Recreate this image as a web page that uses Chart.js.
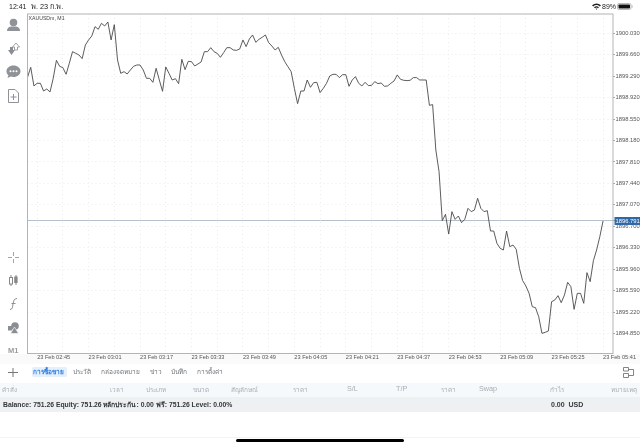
<!DOCTYPE html>
<html lang="th"><head><meta charset="utf-8">
<script src="https://cdn.jsdelivr.net/npm/chart.js@4"></script>
<style>
html,body{margin:0;padding:0;background:#fff;width:640px;height:447px;overflow:hidden;font-family:"Liberation Sans","Noto Sans",sans-serif}
#c{position:absolute;left:0;top:0;width:640px;height:447px}
.t{position:absolute;white-space:nowrap;line-height:1;font-family:"Liberation Sans","Noto Sans",sans-serif}
.b{position:absolute}
.h{color:#a9adb2;font-size:6.4px;top:386.5px}
.h.l{font-size:7.2px;top:385.3px}
.tab{color:#6f7378;font-size:6.5px;top:369px}
svg{position:absolute;overflow:visible}
</style></head><body>
<div class="b" style="left:0;top:354px;width:640px;height:10px;background:#fafafa"></div>
<div class="b" style="left:0;top:383px;width:640px;height:14px;background:#f6f9fc"></div>
<div class="b" style="left:0;top:397px;width:640px;height:15px;background:#eef0f2"></div>
<div class="b" style="left:0;top:437px;width:640px;height:1px;background:#f4f4f4"></div>
<canvas id="c" width="640" height="447"></canvas>

<div class="t" style="left:9px;top:3px;font-size:7px;color:#222">12:41</div>
<div class="t" style="left:31px;top:2.5px;font-size:7.3px;color:#222">พ. 23 ก.พ.</div>
<div class="t" style="left:602px;top:3px;font-size:7px;color:#222">89%</div>
<svg style="left:592px;top:3px" width="9" height="7" viewBox="0 0 9 7"><path d="M0 2.2 Q4.5-1.4 9 2.2L7.8 3.4Q4.5 .8 1.2 3.4ZM2 4.2Q4.5 2.2 7 4.2L6 5.2Q4.5 4 3 5.2ZM3.6 5.8Q4.5 5.2 5.4 5.8L4.5 6.8Z" fill="#222"/></svg>
<svg style="left:617px;top:3px" width="16" height="7" viewBox="0 0 16 7"><rect x=".5" y=".5" width="13.5" height="6" rx="1.5" fill="#fff" stroke="#bbb"/><rect x="1.5" y="1.5" width="11.5" height="4" rx=".7" fill="#111"/><rect x="14.6" y="2.3" width="1" height="2.4" fill="#bbb"/></svg>

<svg style="left:6px;top:18px" width="15" height="14" viewBox="0 0 15 14"><circle cx="7.5" cy="4.5" r="3.8" fill="#8f9296"/><path d="M1 13Q1 9 5 8.5L10 8.5Q14 9 14 13Z" fill="#8f9296"/></svg>
<svg style="left:7px;top:42px" width="13" height="14" viewBox="0 0 13 14"><path d="M1 8H3V5H6V8H8L4.5 13Z" fill="#8a8d91"/><path d="M5.5 5L9 1L12.5 5H10.5V8H7.5V5Z" fill="#fff" stroke="#8a8d91" stroke-width=".8"/></svg>
<svg style="left:6px;top:65px" width="15" height="14" viewBox="0 0 15 14"><path d="M7.5 .5C11.5.5 14.5 3 14.5 6.2S11.5 12 7.5 12C6.5 12 5.5 11.8 4.8 11.6L1.5 13 2.4 10.2C1.2 9.2.5 7.8.5 6.2.5 3 3.5.5 7.5.5Z" fill="#8f9296"/><circle cx="4.5" cy="6.2" r="1" fill="#fff"/><circle cx="7.5" cy="6.2" r="1" fill="#fff"/><circle cx="10.5" cy="6.2" r="1" fill="#fff"/></svg>
<svg style="left:8px;top:89px" width="11" height="14" viewBox="0 0 11 14"><path d="M.5.5H7L10.5 4V13.5H.5Z" fill="#fff" stroke="#8f9296"/><path d="M2.5 8H8.5M5.5 5V11" stroke="#8f9296"/></svg>
<svg style="left:8px;top:252px" width="11" height="11" viewBox="0 0 11 11"><path d="M0 5.5H4M7 5.5H11M5.5 0V4M5.5 7V11" stroke="#a2a5a9"/></svg>
<svg style="left:9px;top:275px" width="9" height="11" viewBox="0 0 9 11"><path d="M2 0V11M7 0V10" stroke="#888"/><rect x=".5" y="2.5" width="3" height="6.5" fill="#fff" stroke="#888"/><rect x="5.2" y="1.5" width="3.4" height="6.5" fill="#888"/></svg>
<svg style="left:9px;top:298px" width="9" height="12" viewBox="0 0 9 12"><path d="M1 11.5C3.5 11.5 3.5 9 4 6S5 .5 8 .5M2.5 5.5H6.5" fill="none" stroke="#8a8d91"/></svg>
<svg style="left:7.5px;top:321.5px" width="11" height="12" viewBox="0 0 11 12"><circle cx="7" cy="4" r="3.8" fill="#8a8d91"/><rect x="0" y="4" width="4.5" height="4.5" fill="#8a8d91"/><path d="M6.5 5L10.5 11.5H2.5Z" fill="#8a8d91" stroke="#fff" stroke-width=".6"/></svg>
<div class="t" style="left:8px;top:347px;font-size:7.5px;font-weight:bold;color:#9a9da1">M1</div>

<svg style="left:8px;top:367.5px" width="10" height="9" viewBox="0 0 10 9"><path d="M0 4.5H10M5 0V9" stroke="#777"/></svg>
<div class="b" style="left:32px;top:367px;width:35px;height:10px;background:#e4f0fc;border-radius:2px"></div>
<div class="t tab" style="left:33px;color:#2a7be0;font-weight:bold">การซื้อขาย</div>
<div class="t tab" style="left:73px">ประวัติ</div>
<div class="t tab" style="left:100.5px">กล่องจดหมาย</div>
<div class="t tab" style="left:150px">ข่าว</div>
<div class="t tab" style="left:171px">บันทึก</div>
<div class="t tab" style="left:197px">การตั้งค่า</div>
<svg style="left:623px;top:367px" width="11" height="11" viewBox="0 0 11 11"><path d="M.5.5H5.5V4H.5ZM.5 6.5H5.5V10.5H.5ZM5.5 2.5H10.5V8.5H5.5" fill="none" stroke="#777" stroke-width=".9"/></svg>

<div class="t h" style="left:2px">คำสั่ง</div>
<div class="t h" style="left:110px">เวลา</div>
<div class="t h" style="left:146px">ประเภท</div>
<div class="t h" style="left:193px">ขนาด</div>
<div class="t h" style="left:231px">สัญลักษณ์</div>
<div class="t h" style="left:293px">ราคา</div>
<div class="t h l" style="left:347px">S/L</div>
<div class="t h l" style="left:396px">T/P</div>
<div class="t h" style="left:441px">ราคา</div>
<div class="t h l" style="left:479px">Swap</div>
<div class="t h" style="left:550px">กำไร</div>
<div class="t h" style="left:611px">หมายเหตุ</div>
<div class="t" style="left:3px;top:401.5px;font-size:6.8px;font-weight:bold;color:#33373b">Balance: 751.26 Equity: 751.26 หลักประกัน: 0.00 ฟรี: 751.26 Level: 0.00%</div>
<div class="t" style="left:551px;top:401px;font-size:7px;font-weight:bold;color:#33373b;white-space:pre">0.00  USD</div>
<div class="b" style="left:236px;top:439px;width:168px;height:2.6px;background:#000;border-radius:2px"></div>

<script>
const symbolTitle = "XAUUSDm, M1";
const minutesPerTick = 8;
const firstTickMinute = 3;
const timeLabels = ["23 Feb 02:45","23 Feb 03:01","23 Feb 03:17","23 Feb 03:33","23 Feb 03:49","23 Feb 04:05","23 Feb 04:21","23 Feb 04:37","23 Feb 04:53","23 Feb 05:09","23 Feb 05:25","23 Feb 05:41"];
const priceTicks = [1900.03,1899.66,1899.29,1898.92,1898.55,1898.18,1897.81,1897.44,1897.07,1896.7,1896.33,1895.96,1895.59,1895.22,1894.85];
const bidPrice = 1896.791;
const closes = [
1899.270,1899.443,1899.121,1899.167,1899.167,1899.034,1899.069,1899.017,1899.253,1899.564,
1899.460,1899.437,1899.322,1899.512,1899.713,1899.685,1899.656,1899.593,1899.828,1899.915,
1899.984,1900.145,1900.099,1900.202,1900.156,1900.225,1899.915,1900.179,1899.570,1899.339,
1899.368,1899.328,1899.397,1899.460,1899.483,1899.483,1899.397,1899.253,1899.253,1899.184,
1899.426,1899.224,1899.029,1899.449,1899.339,1899.224,1899.247,1899.161,1899.581,1899.403,
1899.546,1899.541,1899.466,1899.500,1899.535,1899.713,1899.713,1899.782,1899.713,1899.685,
1899.615,1899.696,1899.782,1899.782,1899.742,1899.736,1899.759,1899.915,1899.800,1899.932,
1900.001,1899.874,1899.926,1899.961,1900.001,1899.869,1899.811,1899.742,1899.788,1899.656,
1899.541,1899.454,1899.368,1899.080,1898.816,1899.034,1899.034,1899.224,1899.098,1899.178,
1899.184,1899.006,1899.080,1899.167,1899.293,1899.322,1899.322,1899.265,1899.316,1899.316,
1899.115,1899.224,1899.282,1899.167,1899.121,1899.184,1899.127,1899.132,1899.196,1899.161,
1899.173,1899.115,1899.121,1899.167,1899.207,1899.311,1899.236,1899.219,1899.213,1899.219,
1899.265,1899.265,1899.224,1899.224,1899.224,1898.787,1898.799,1898.016,1897.642,1896.796,
1896.906,1896.566,1896.952,1896.819,1896.877,1896.762,1896.819,1897.009,1896.952,1896.981,
1897.182,1897.009,1896.952,1896.969,1896.618,1896.618,1896.405,1896.319,1896.290,1896.618,
1896.348,1896.376,1896.302,1895.974,1895.761,1895.669,1895.542,1895.312,1895.295,1895.139,
1894.852,1894.869,1894.892,1895.398,1895.427,1895.502,1895.381,1895.513,1895.732,1895.657,
1895.266,1895.542,1895.542,1895.370,1895.899,1895.744,1896.106,1896.290,1896.520,1896.791];
const xMax = 182.1, yMin = 1894.504, yMax = 1900.363;

const frame = {id:'frame',
  afterDraw(ch){const a=ch.chartArea,g=ch.ctx;g.save();g.strokeStyle='#b4b4b4';g.lineWidth=1;
    g.strokeRect(a.left,a.top,a.right-a.left,a.bottom-a.top);
    g.fillStyle='#444';g.font='5.2px "Liberation Sans"';g.textBaseline='top';g.fillText(symbolTitle,a.left+1,a.top+1.5);g.restore();}};

new Chart(document.getElementById('c'),{
  type:'line',
  data:{datasets:[{data:closes.map((y,i)=>({x:i,y})),borderColor:'#4a4a4a',borderWidth:0.9,pointRadius:0,tension:0,fill:false}]},
  plugins:[frame],
  options:{
    responsive:false,animation:false,devicePixelRatio:1,
    layout:{padding:{left:27.5,top:14,right:0,bottom:78}},
    plugins:{legend:{display:false},tooltip:{enabled:false},title:{display:false}},
    scales:{
      x:{type:'linear',min:0,max:xMax,
        afterBuildTicks(s){const t=[];for(let m=firstTickMinute;m<=xMax;m+=minutesPerTick)t.push({value:m});s.ticks=t;},
        afterFit(s){s.height=15.5;s.paddingLeft=0;s.paddingRight=0;},
        border:{display:false,dash:[1,3]},
        grid:{color:'#ebebeb',lineWidth:1,drawTicks:false,tickLength:0},
        ticks:{autoSkip:false,maxRotation:0,minRotation:0,align:'start',padding:1,color:'#555',font:{size:5.6,family:'"Liberation Sans"'},
          callback(v){const k=(v-firstTickMinute)/minutesPerTick;return k%2===0?timeLabels[k/2]:'';}}
      },
      y:{type:'linear',position:'right',min:yMin,max:yMax,
        afterBuildTicks(s){s.ticks=priceTicks.concat([bidPrice]).map(value=>({value}));},
        afterFit(s){s.width=27;s.paddingTop=0;s.paddingBottom=0;},
        border:{display:false,dash:c=>c.tick&&c.tick.value===bidPrice?[]:[1,3]},
        grid:{color:c=>c.tick&&c.tick.value===bidPrice?'#b4c0cc':'#ebebeb',lineWidth:1,tickLength:2,tickColor:'#aaa',tickBorderDash:[]},
        ticks:{autoSkip:false,padding:0.5,crossAlign:'near',font:{size:5.8,family:'"Liberation Sans"'},
          color:c=>c.tick&&c.tick.value===bidPrice?'#fff':'#555',
          showLabelBackdrop:c=>!!(c.tick&&c.tick.value===bidPrice),
          backdropColor:'#2f68a6',backdropPadding:{left:1,right:1,top:0.5,bottom:0.5},
          callback:v=>v.toFixed(3)}
      }
    }
  }
});
</script>
</body></html>
